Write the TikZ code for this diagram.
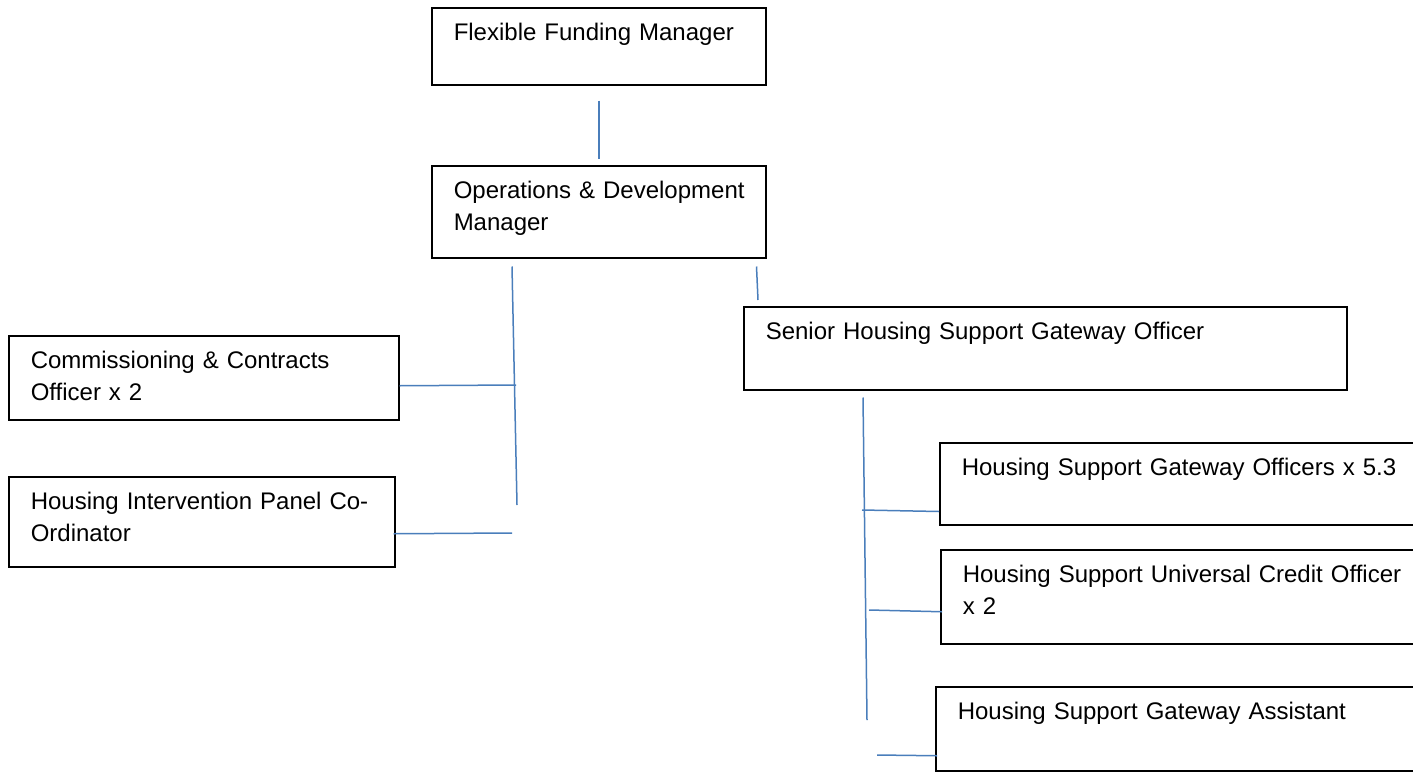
\documentclass[tikz,border=0pt]{standalone}
\usepackage{fontspec}
\setmainfont{Liberation Sans}
\usetikzlibrary{calc}
\definecolor{linkblue}{RGB}{74,126,187}
\tikzset{
  role/.style={draw=black, line width=0.75pt, anchor=north west, align=left,
    inner xsep=11pt, inner ysep=0pt, text height=16.5pt,
    font=\fontsize{12}{16}\selectfont},
  link/.style={draw=linkblue, line width=0.75pt},
}
\begin{document}
\begin{tikzpicture}[x=0.5pt,y=-0.5pt]
            \clip (0,0) rectangle (1413,771);
            % managers
            \node[role, text width=145pt, text depth=22pt] (ffm) at (431,7) {Flexible Funding Manager};
            \node[role, text width=145pt, text depth=29.5pt] (ops) at (431,165) {\mbox{Operations \& Development}\\Manager};
            % left branch
            \node[role, text width=173pt, text depth=25.5pt] (comm) at (8,335) {Commissioning \& Contracts\\Officer x 2};
            \node[role, text width=171pt, text depth=28.5pt] (hip) at (8,476) {\mbox{Housing Intervention Panel Co-}\\Ordinator};
            % right branch
            \node[role, text width=279.5pt, text depth=25pt] (senior) at (743,306) {Senior Housing Support Gateway Officer};
            \node[role, text width=238pt, text depth=24.5pt] (hsgo) at (939,442) {Housing Support Gateway Officers x 5.3};
            \node[role, text width=238pt, text depth=30.5pt] (hsuco) at (940,549) {Housing Support Universal Credit Officer\\x 2};
            \node[role, text width=238pt, text depth=25.5pt] (hsga) at (935,686) {Housing Support Gateway Assistant};
            \coordinate (lt) at (517,505);
            \coordinate (lb1) at (516,385);
            \coordinate (lb2) at (512,533);
            \coordinate (rt) at (867,720);
            \coordinate (rb1) at (862,510);
            \coordinate (rb2) at (869,610);
            \coordinate (rb3) at (877,755);
            \path (ffm) edge [link, shorten <=7.5pt, shorten >=3pt] (ops);
            \draw[link] ($(ops.south east)+(-10,8)$) -- ($(senior.north west)+(15,-6)$);
            \draw[link] ($(ops.south west)+(81,8)$) -- (lt);
            \draw[link] ($(comm.east)+(0,8)$) -- (lb1);
            \draw[link] ($(hip.east)+(-2,12)$) -- (lb2);
            \draw[link] ($(senior.south west)+(120,7)$) -- (rt);
            \draw[link] (rb1) -- ($(hsgo.south west)+(0,-14)$);
            \draw[link] (rb2) -- ($(hsuco.west)+(2,15)$);
            \draw[link] (rb3) -- ($(hsga.west)+(2,27)$);
        \end{tikzpicture}
\end{document}
